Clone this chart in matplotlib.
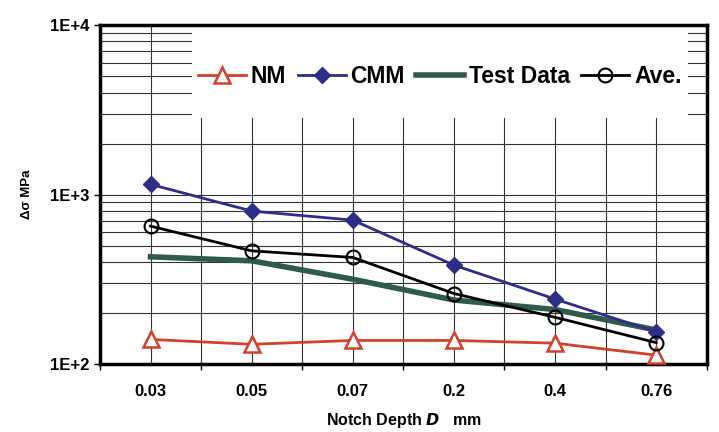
import matplotlib.pyplot as plt
from matplotlib.patches import Rectangle
from matplotlib.ticker import FixedLocator, LogLocator, NullFormatter

plt.rcParams['font.family'] = ['Liberation Sans', 'DejaVu Sans']

# data
depths = ['0.03', '0.05', '0.07', '0.2', '0.4', '0.76']
nm = [140, 131, 138, 138, 133, 113]
cmm = [1150, 800, 707, 384, 242, 155]
test_data = [430, 407, 317, 239, 210, 159]
ave = [652, 466, 426, 261, 189, 134]

x = list(range(len(depths)))

fig = plt.figure(figsize=(7.19, 4.32), dpi=100)
ax = fig.add_axes([0.139, 0.157, 0.844, 0.785])

ax.plot(x, nm, color='#d2402e', lw=2, marker='^', ms=11, mfc='white',
        mec='#d2402e', mew=1.8, label='NM', zorder=4)
ax.plot(x, cmm, color='#2e2e88', lw=2, marker='D', ms=8.5, mfc='#2e2e88',
        mec='#2e2e88', label='CMM', zorder=4)
ax.plot(x, test_data, color='#2f5a4c', lw=4, label='Test Data', zorder=3)
ax.plot(x, ave, color='black', lw=2, marker='o', ms=10, mfc='none',
        mec='black', mew=1.5, label='Ave.', zorder=5)

ax.set_yscale('log')
ax.set_ylim(100, 10000)
ax.set_xlim(-0.5, len(depths) - 0.5)

ax.set_yticks([100, 1000, 10000])
ax.set_yticklabels(['1E+2', '1E+3', '1E+4'], fontsize=12, fontweight='bold')
ax.yaxis.set_minor_locator(LogLocator(base=10, subs=range(2, 10)))
ax.yaxis.set_minor_formatter(NullFormatter())
ax.tick_params(axis='y', which='major', length=4, width=1, direction='out')
ax.tick_params(axis='y', which='minor', length=0)

ax.set_xticks(x)
ax.set_xticklabels(depths, fontsize=12, fontweight='bold')
ax.xaxis.set_minor_locator(FixedLocator([i + 0.5 for i in range(-1, len(depths))]))
ax.tick_params(axis='x', which='major', length=0, pad=14)
ax.tick_params(axis='x', which='minor', length=4, width=1, direction='out')

ax.grid(True, which='both', color='#333333', lw=0.8)

for s in ax.spines.values():
    s.set_linewidth(2.5)

# white area behind the legend
ax.add_patch(Rectangle((0.151, 0.726), 0.818, 0.268, transform=ax.transAxes,
                       facecolor='white', edgecolor='none', zorder=2))

ax.legend(loc='center', bbox_to_anchor=(0.56, 0.847), ncol=4, frameon=False,
          prop={'weight': 'bold', 'size': 16.5}, handlelength=2.1,
          handletextpad=0.2, columnspacing=0.5, borderaxespad=0)

ax.set_ylabel('Δσ MPa', fontsize=9.5, fontweight='bold', labelpad=12)
ax.set_xlabel(r'Notch Depth $\mathbfit{D}$   mm', fontsize=11.5, fontweight='bold',
              labelpad=9)

fig.savefig('out.png', dpi=100)
